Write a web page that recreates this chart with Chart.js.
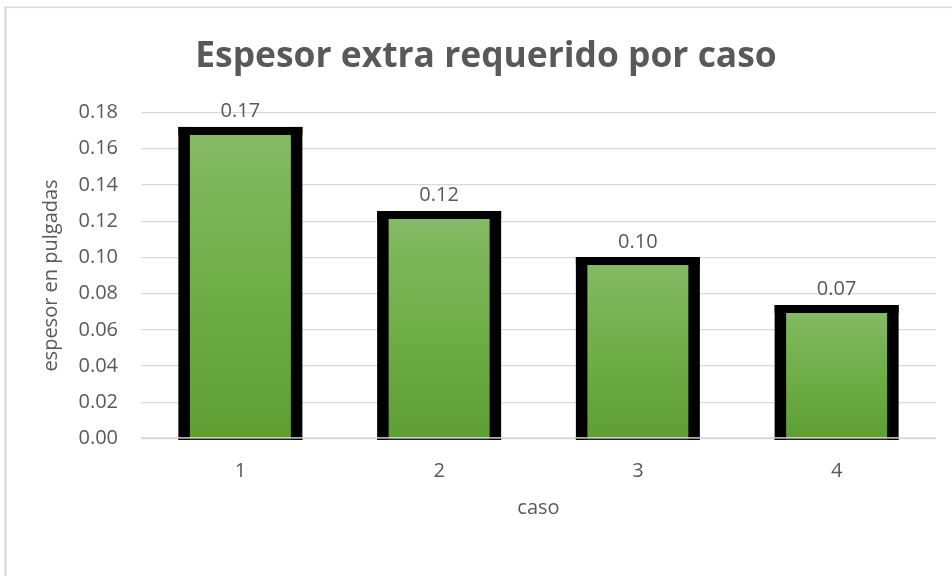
<!DOCTYPE html>
<html lang="es">
<head>
<meta charset="utf-8">
<title>Espesor extra requerido por caso</title>
<script src="https://cdn.jsdelivr.net/npm/chart.js@4.4.1/dist/chart.umd.min.js"></script>
<style>
  html, body { margin: 0; padding: 0; background: #ffffff; }
  canvas { display: block; }
</style>
</head>
<body>
<canvas id="chart" width="952" height="576"></canvas>
<script>
// Datos
const casos = ['1', '2', '3', '4'];
const espesorExtra = [0.1698, 0.1234, 0.0980, 0.0715];
const ejeY = { min: 0, max: 0.18, paso: 0.02 };

const textColor = '#595959';
const gridColor = '#D9D9D9';
Chart.defaults.font.family = "'Open Sans', 'DejaVu Sans', sans-serif";
Chart.defaults.color = textColor;

// Green gradient per bar, from its top down to the base
function barGradient(ctx) {
  const chart = ctx.chart;
  const y = chart.scales && chart.scales.y;
  if (!y || ctx.raw == null) return '#70AD47';
  const top = y.getPixelForValue(ctx.raw);
  const bottom = y.getPixelForValue(0);
  if (!isFinite(top) || !isFinite(bottom) || top === bottom) return '#70AD47';
  const g = chart.ctx.createLinearGradient(0, top, 0, bottom);
  g.addColorStop(0, '#84BA65');
  g.addColorStop(0.5, '#70AE47');
  g.addColorStop(1, '#5E9E33');
  return g;
}

// Light frame around the chart
const frame = {
  id: 'frame',
  beforeDraw(chart) {
    const c = chart.ctx;
    c.save();
    c.fillStyle = '#ffffff';
    c.fillRect(0, 0, chart.width, chart.height);
    c.fillStyle = gridColor;
    c.fillRect(4.3, 6.7, 2.2, chart.height);
    c.fillRect(4.3, 6.7, chart.width, 1.4);
    c.restore();
  }
};

// Thick black outline centred on each bar edge, plus value labels
const outlineAndLabels = {
  id: 'outlineAndLabels',
  afterDatasetsDraw(chart) {
    const c = chart.ctx;
    const meta = chart.getDatasetMeta(0);
    const area = chart.chartArea;
    const side = 11.5, topW = 8;
    c.save();
    meta.data.forEach((el) => {
      const p = el.getProps(['x', 'y', 'base', 'width'], true);
      const left = p.x - p.width / 2;
      const right = p.x + p.width / 2;
      c.fillStyle = '#000000';
      c.fillRect(left - side / 2, p.y - topW / 2, side, p.base - p.y + topW / 2 + 2);
      c.fillRect(right - side / 2, p.y - topW / 2, side, p.base - p.y + topW / 2 + 2);
      c.fillRect(left - side / 2, p.y - topW / 2, p.width + side, topW);
      c.fillRect(left - side / 2, p.base + 0.2, p.width + side, 1.8);
    });
    // horizontal axis line over the bar bases
    const base = chart.scales.y.getPixelForValue(0);
    c.fillStyle = gridColor;
    c.fillRect(area.left, base - 1.3, area.right - area.left, 1.4);

    c.fillStyle = textColor;
    c.font = "20px 'Open Sans', sans-serif";
    c.textAlign = 'center';
    c.textBaseline = 'alphabetic';
    meta.data.forEach((el, i) => {
      const p = el.getProps(['x', 'y'], true);
      c.fillText(espesorExtra[i].toFixed(2), p.x, p.y - 13.5);
    });
    c.restore();
  }
};

new Chart(document.getElementById('chart'), {
  type: 'bar',
  data: {
    labels: casos,
    datasets: [{
      label: 'espesor',
      data: espesorExtra,
      backgroundColor: barGradient,
      borderWidth: 0,
      categoryPercentage: 1,
      barPercentage: 0.566
    }]
  },
  options: {
    responsive: false,
    devicePixelRatio: 1,
    animation: false,
    layout: { padding: { left: 36, right: 16, top: 0, bottom: 0 } },
    plugins: {
      legend: { display: false },
      tooltip: { enabled: false },
      title: {
        display: true,
        text: 'Espesor extra requerido por caso',
        color: textColor,
        font: { size: 35.4, weight: 'bold', lineHeight: 1.2 },
        padding: { top: 35.8, bottom: 34.2 }
      }
    },
    scales: {
      x: {
        grid: { display: false },
        border: { display: false },
        ticks: { font: { size: 20 }, color: textColor, padding: 12.5 },
        title: {
          display: true,
          text: 'caso',
          color: textColor,
          font: { size: 20, lineHeight: 1.2 },
          padding: { top: 0, bottom: 56 }
        },
        afterFit(scale) { scale.height = 137.5; }
      },
      y: {
        min: ejeY.min,
        max: ejeY.max,
        grid: { color: gridColor, lineWidth: 1.3, drawTicks: false },
        border: { display: false },
        ticks: {
          stepSize: ejeY.paso,
          padding: 23,
          font: { size: 20 },
          color: textColor,
          callback: v => Number(v).toFixed(2)
        },
        title: {
          display: true,
          text: 'espesor en pulgadas',
          color: textColor,
          font: { size: 20, lineHeight: 1.2 },
          padding: { top: 3, bottom: 0 }
        },
        afterFit(scale) { scale.width = 105; }
      }
    }
  },
  plugins: [frame, outlineAndLabels]
});
</script>
</body>
</html>
